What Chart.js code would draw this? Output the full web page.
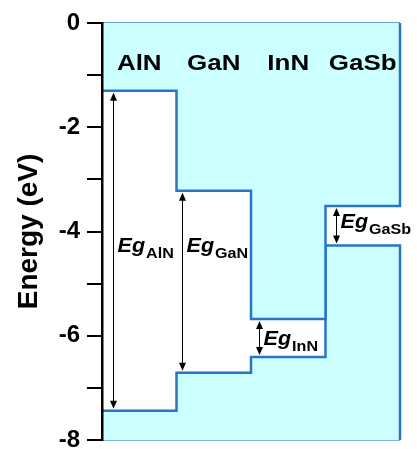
<!DOCTYPE html>
<html>
<head>
<meta charset="utf-8">
<script src="https://cdn.jsdelivr.net/npm/chart.js@4"></script>
<style>
  body { margin: 0; background: #fff; }
  #wrap { width: 417px; height: 449px; }
</style>
</head>
<body>
<div id="wrap"><canvas id="bandChart"></canvas></div>
<script>
// Materiales y bordes de banda (eV)
const materials = ['AlN', 'GaN', 'InN', 'GaSb'];
const cbm = [-1.3, -3.22, -5.68, -3.51];
const vbm = [-7.44, -6.71, -6.41, -4.27];
const yMin = -8;
const yMax = 0;
const yStep = 1;

const FONT = "'Liberation Sans', Arial, sans-serif";
const BLUE = '#2a74c4';
const CYAN = '#ccffff';

// Puntos escalonados: cada valor se mantiene hasta el siguiente material
function stepPoints(values, closeTo) {
    const pts = values.map((v, i) => ({ x: i, y: v }));
    pts.push({ x: values.length, y: values[values.length - 1] });
    pts.push({ x: values.length, y: closeTo });
    return pts;
}

// Texto con un poco de estiramiento horizontal, como en la figura original
function drawText(ctx, str, x, y, font, align, sx) {
    ctx.save();
    ctx.font = font;
    ctx.textAlign = align;
    ctx.textBaseline = 'alphabetic';
    ctx.translate(x, y);
    ctx.scale(sx, 1);
    ctx.fillText(str, 0, 0);
    ctx.restore();
}

function textWidth(ctx, str, font, sx) {
    ctx.save();
    ctx.font = font;
    const w = ctx.measureText(str).width * sx;
    ctx.restore();
    return w;
}

function arrowHead(ctx, x, y, dir) {
    ctx.beginPath();
    ctx.moveTo(x, y);
    ctx.lineTo(x - 3.5, y + dir * 8);
    ctx.lineTo(x + 3.5, y + dir * 8);
    ctx.closePath();
    ctx.fill();
}

const annotations = {
    id: 'annotations',
    afterDatasetsDraw(chart) {
        const ctx = chart.ctx;
        const xs = chart.scales.x;
        const ys = chart.scales.y;
        const arrowX = [0.15, 1.07, 2.11, 3.14];
        const egBase = [-4.4, -4.4, -6.18, -3.93];

        ctx.save();
        ctx.fillStyle = '#000';
        ctx.strokeStyle = '#000';
        ctx.lineWidth = 1;

        materials.forEach((m, i) => {
            // nombre del material
            drawText(ctx, m, xs.getPixelForValue(i + 0.5), ys.getPixelForValue(-0.9),
                'bold 22px ' + FONT, 'center', 1.18);

            // flecha de doble punta para la brecha
            const x = Math.round(xs.getPixelForValue(arrowX[i])) + 0.5;
            const y1 = ys.getPixelForValue(cbm[i]) + 2;
            const y2 = ys.getPixelForValue(vbm[i]) - 2;
            ctx.beginPath();
            ctx.moveTo(x, y1 + 4);
            ctx.lineTo(x, y2 - 4);
            ctx.stroke();
            arrowHead(ctx, x, y1, 1);
            arrowHead(ctx, x, y2, -1);

            // etiqueta Eg con subíndice
            const lx = x + 4;
            const ly = ys.getPixelForValue(egBase[i]);
            const egFont = 'italic bold 20px ' + FONT;
            drawText(ctx, 'Eg', lx, ly, egFont, 'left', 1.08);
            const w = textWidth(ctx, 'Eg', egFont, 1.08);
            drawText(ctx, m, lx + w + 1, ly + 6, 'bold 14px ' + FONT, 'left', 1.15);
        });
        ctx.restore();
    }
};

const ctx = document.getElementById('bandChart').getContext('2d');

new Chart(ctx, {
    type: 'line',
    data: {
        datasets: [
            {
                label: 'CBM',
                data: stepPoints(cbm, yMax),
                stepped: 'before',
                borderColor: BLUE,
                borderWidth: 2.5,
                backgroundColor: CYAN,
                fill: 'end',
                pointRadius: 0,
                clip: false
            },
            {
                label: 'VBM',
                data: stepPoints(vbm, yMin),
                stepped: 'before',
                borderColor: BLUE,
                borderWidth: 2.5,
                backgroundColor: CYAN,
                fill: 'start',
                pointRadius: 0,
                clip: false
            },
            {
                label: 'top',
                data: [{ x: 0, y: yMax }, { x: materials.length, y: yMax }],
                borderColor: '#3a84d4',
                borderWidth: 1.5,
                fill: false,
                pointRadius: 0,
                clip: false
            },
            {
                label: 'bottom',
                data: [{ x: 0, y: yMin }, { x: materials.length, y: yMin }],
                borderColor: '#5a9ae0',
                borderWidth: 1.5,
                fill: false,
                pointRadius: 0,
                clip: false
            },
            {
                label: 'divider',
                data: [{ x: 2, y: yMax }, { x: 2, y: cbm[1] }],
                borderColor: '#ffffff',
                borderWidth: 1.5,
                fill: false,
                pointRadius: 0,
                clip: false
            }
        ]
    },
    options: {
        responsive: true,
        maintainAspectRatio: false,
        animation: false,
        layout: { padding: { left: 0, top: 23, right: 17, bottom: 9 } },
        plugins: {
            legend: { display: false },
            tooltip: { enabled: false }
        },
        scales: {
            x: {
                type: 'linear',
                min: 0,
                max: materials.length,
                display: false
            },
            y: {
                min: yMin,
                max: yMax,
                afterFit(scale) {
                    scale.width = 102;
                    scale.paddingTop = 0;
                    scale.paddingBottom = 0;
                },
                ticks: {
                    stepSize: yStep,
                    autoSkip: false,
                    padding: 7,
                    color: '#000',
                    font: { family: FONT, size: 24, weight: 'bold' },
                    callback: (v) => (v % 2 === 0 ? String(v) : '')
                },
                grid: {
                    drawOnChartArea: false,
                    drawTicks: true,
                    tickLength: 15,
                    color: '#000',
                    lineWidth: 2,
                    z: 1
                },
                border: { display: true, color: '#000', width: 2.5, z: 2 },
                title: {
                    display: true,
                    text: 'Energy (eV)',
                    color: '#000',
                    font: { family: FONT, size: 28, weight: 'bold' },
                    padding: { top: 12, bottom: 13 }
                }
            }
        }
    },
    plugins: [annotations]
});
</script>
</body>
</html>
